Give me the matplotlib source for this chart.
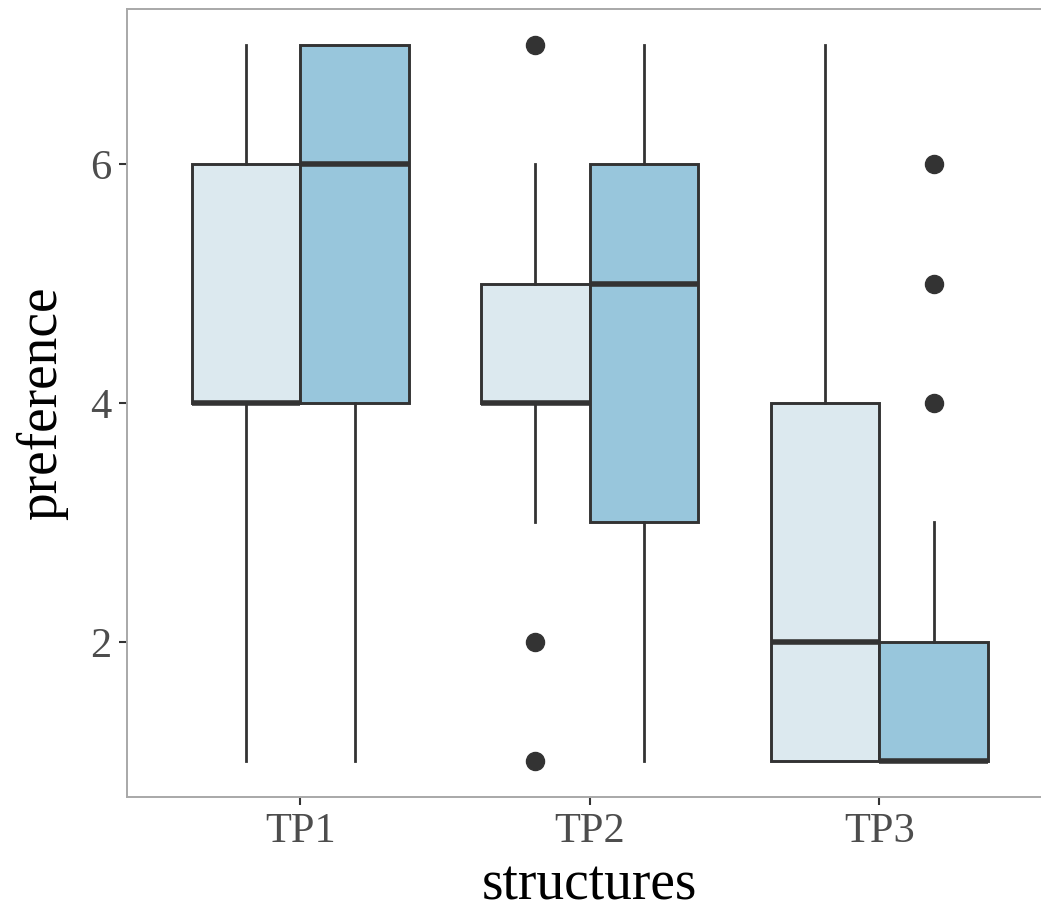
import matplotlib
matplotlib.use("Agg")
import matplotlib.pyplot as plt

# Box summaries: (low whisker, q1, median, q3, high whisker, outliers)
groups = ["TP1", "TP2", "TP3"]
light_stats = [
    (1, 4, 4, 6, 7, []),
    (3, 4, 4, 5, 6, [7, 2, 1]),
    (1, 1, 2, 4, 7, []),
]
dark_stats = [
    (1, 4, 6, 7, 7, []),
    (1, 3, 5, 6, 7, []),
    (1, 1, 1, 2, 3, [4, 5, 6]),
]
series_colors = ["#dce9ef", "#98c6dc"]
y_ticks = [2, 4, 6]

plt.rcParams['font.family'] = ['Liberation Serif', 'DejaVu Serif']

fig = plt.figure(figsize=(10.41, 9.11), dpi=100)
# panel runs past the right edge of the picture, as in the reference
ax = fig.add_axes([126.5 / 1041, 1 - 797 / 911, (1053 - 126.5) / 1041, 788 / 911])

line_col = "#333333"
box_w = 0.375


def to_bxp(s):
    lo, q1, med, q3, hi, fl = s
    return dict(whislo=lo, q1=q1, med=med, q3=q3, whishi=hi, fliers=fl)


for k, (stats, col) in enumerate(zip([light_stats, dark_stats], series_colors)):
    offset = (-0.5 + k) * box_w
    pos = [i + 1 + offset for i in range(len(groups))]
    ax.bxp([to_bxp(s) for s in stats], positions=pos, widths=box_w,
           patch_artist=True, showcaps=False,
           boxprops=dict(facecolor=col, edgecolor=line_col, linewidth=2.1),
           whiskerprops=dict(color=line_col, linewidth=2.0),
           medianprops=dict(color=line_col, linewidth=4.0, solid_capstyle='butt'),
           flierprops=dict(marker='o', markerfacecolor=line_col, markeredgecolor=line_col,
                           markersize=13))

ax.set_xlim(0.4, 3.6)
ax.set_ylim(0.7, 7.3)
ax.set_xticks([1, 2, 3])
ax.set_xticklabels(groups)
ax.set_yticks(y_ticks)
ax.set_yticklabels([str(v) for v in y_ticks])

for sp in ax.spines.values():
    sp.set_color("#a8a8a8")
    sp.set_linewidth(1.4)
ax.spines['right'].set_visible(False)

ax.tick_params(axis='both', colors=line_col, length=6, width=1.5,
               labelsize=30.5, labelcolor="#4d4d4d", pad=5)

ax.set_xlabel("structures", fontsize=40, color="black", labelpad=6)
ax.set_ylabel("preference", fontsize=40, color="black", labelpad=16)

fig.savefig("out.png", dpi=100)
